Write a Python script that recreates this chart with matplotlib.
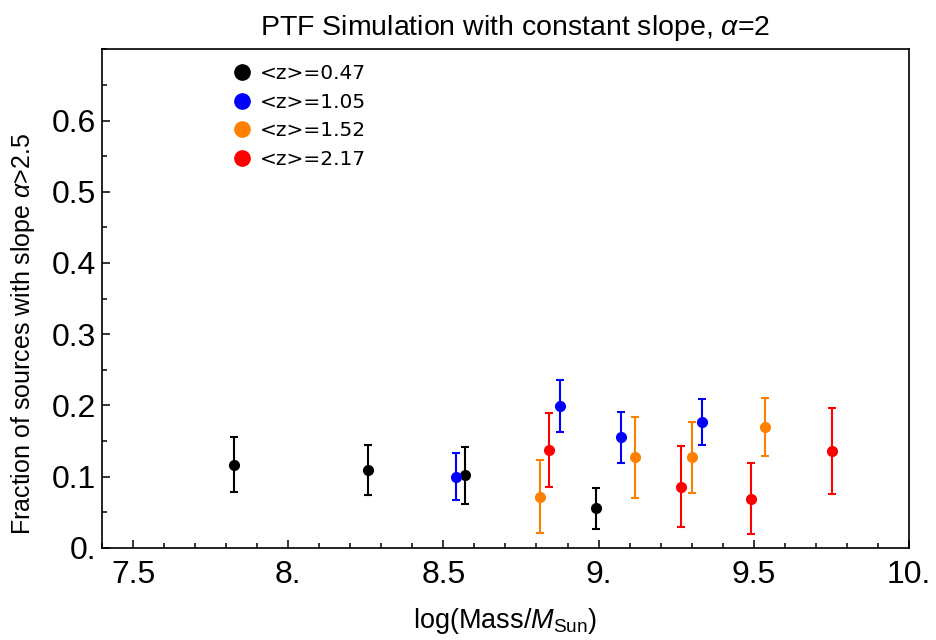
import numpy as np
import matplotlib
matplotlib.use("Agg")
import matplotlib.pyplot as plt
from matplotlib.lines import Line2D
from matplotlib.ticker import FixedLocator, MultipleLocator

# data (log mass, fraction, symmetric error)
labels = ["<z>=0.47", "<z>=1.05", "<z>=1.52", "<z>=2.17"]
colors = ["black", "blue", (1.0, 0.5, 0.0), "red"]

mass_z047 = [7.826, 8.257, 8.569, 8.991]
frac_z047 = [0.117, 0.109, 0.102, 0.0555]
err_z047 = [0.038, 0.035, 0.040, 0.029]

mass_z105 = [8.540, 8.875, 9.071, 9.332]
frac_z105 = [0.100, 0.199, 0.155, 0.177]
err_z105 = [0.033, 0.036, 0.036, 0.032]

mass_z152 = [8.812, 9.119, 9.301, 9.535]
frac_z152 = [0.072, 0.127, 0.127, 0.170]
err_z152 = [0.051, 0.057, 0.050, 0.041]

mass_z217 = [8.839, 9.265, 9.490, 9.753]
frac_z217 = [0.137, 0.086, 0.069, 0.136]
err_z217 = [0.052, 0.057, 0.050, 0.061]

xticks = [7.5, 8.0, 8.5, 9.0, 9.5, 10.0]
xticklabels = ["7.5", "8.", "8.5", "9.", "9.5", "10."]
yticks = [0.0, 0.1, 0.2, 0.3, 0.4, 0.5, 0.6]
yticklabels = ["0.", "0.1", "0.2", "0.3", "0.4", "0.5", "0.6"]

plt.rcParams["font.family"] = ["Liberation Sans", "DejaVu Sans"]
plt.rcParams["mathtext.fontset"] = "custom"
plt.rcParams["mathtext.rm"] = "Liberation Sans"
plt.rcParams["mathtext.it"] = "Liberation Sans:italic"

fig = plt.figure(figsize=(9.36, 6.4), dpi=100)
ax = fig.add_axes([0.109, 0.144, 0.862, 0.779])

series = [
    (mass_z047, frac_z047, err_z047),
    (mass_z105, frac_z105, err_z105),
    (mass_z152, frac_z152, err_z152),
    (mass_z217, frac_z217, err_z217),
]
for (xs, ys, es), c in zip(series, colors):
    ax.errorbar(xs, ys, yerr=es, fmt="o", color=c, ms=7, elinewidth=1.5,
                capsize=3, capthick=1.5, zorder=3)

ax.set_xlim(7.4, 10.0)
ax.set_ylim(0.0, 0.7)
ax.xaxis.set_major_locator(FixedLocator(xticks))
ax.set_xticklabels(xticklabels)
ax.xaxis.set_minor_locator(MultipleLocator(0.1))
ax.yaxis.set_major_locator(FixedLocator(yticks))
ax.set_yticklabels(yticklabels)
ax.yaxis.set_minor_locator(MultipleLocator(0.05))

ax.tick_params(which="both", direction="in", top=False, right=False, width=1.1)
ax.tick_params(which="major", length=6, labelsize=23)
ax.tick_params(axis="x", which="major", pad=9)
ax.tick_params(axis="y", which="major", pad=4)
ax.tick_params(which="minor", length=3.5)
for s in ax.spines.values():
    s.set_linewidth(1.2)

ax.set_title(r"PTF Simulation with constant slope, $\alpha$=2", fontsize=20.5,
             pad=10, x=0.512)
ax.set_xlabel(r"log(Mass/$M_{\rm Sun}$)", fontsize=19.5, labelpad=11)
ax.set_ylabel(r"Fraction of sources with slope $\alpha$>2.5", fontsize=18)
ax.yaxis.set_label_coords(-0.08, 0.43)

handles = [Line2D([], [], ls="none", marker="o", ms=11, color=c) for c in colors]
ax.legend(handles, labels, loc="upper left", bbox_to_anchor=(0.161, 0.97),
          frameon=False, borderpad=0, borderaxespad=0, handlelength=1.0,
          handletextpad=0.4, labelspacing=0.47,
          prop={"family": "DejaVu Sans", "size": 14.5})

fig.savefig("out.png", dpi=100)
